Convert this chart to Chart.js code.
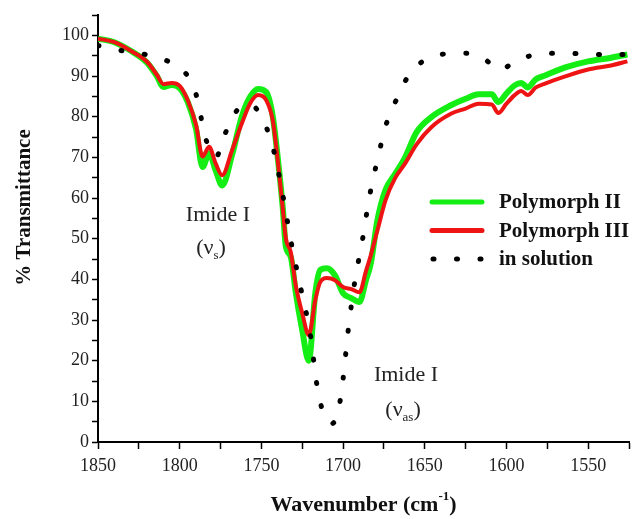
<!DOCTYPE html>
<html>
<head>
<meta charset="utf-8">
<title>IR spectra - Imide I region</title>
<script src="https://cdn.jsdelivr.net/npm/chart.js@4.4.1/dist/chart.umd.min.js"></script>
<style>
    html, body { margin: 0; padding: 0; background: #fff; }
    canvas { display: block; }
</style>
</head>
<body>
<canvas id="irChart" width="638" height="519"></canvas>
<script>
// wavenumbers (cm-1) shared by both solid-state traces
const polyWavenumbers = [1850, 1840, 1830, 1820, 1814, 1810, 1805, 1800, 1795, 1790, 1786, 1782, 1778, 1774, 1768, 1762, 1757, 1752, 1747, 1743, 1740, 1737, 1735, 1732, 1729, 1725, 1721, 1717, 1714, 1710, 1705, 1700, 1695, 1690, 1686, 1683, 1679, 1674, 1668, 1662, 1655, 1646, 1634, 1625, 1617, 1609, 1605, 1600, 1595, 1591, 1587, 1582, 1576, 1564, 1550, 1536, 1526];
const polymorphII = [99.2, 98.3, 96.2, 93.3, 90.0, 87.3, 87.8, 87.0, 83.5, 77.0, 67.6, 71.0, 66.8, 63.1, 70.5, 80.0, 84.8, 86.8, 86.0, 80.0, 70.0, 58.0, 48.0, 45.5, 36.9, 27.5, 20.0, 36.6, 42.3, 42.7, 41.0, 36.6, 35.4, 34.4, 39.8, 44.0, 54.5, 62.0, 66.0, 70.0, 76.2, 79.9, 82.8, 84.4, 85.5, 85.5, 83.6, 85.7, 87.7, 88.3, 87.2, 89.2, 90.2, 92.1, 93.6, 94.5, 95.3];
const polymorphIII = [99.2, 98.3, 96.2, 93.5, 90.3, 88.0, 88.3, 87.6, 84.0, 78.0, 70.2, 72.6, 68.5, 65.6, 71.7, 78.3, 83.2, 85.3, 84.0, 79.0, 69.3, 57.8, 50.0, 46.7, 38.6, 31.7, 26.3, 34.9, 39.3, 40.3, 39.8, 38.1, 37.6, 36.8, 42.0, 46.0, 52.0, 59.5, 65.0, 68.5, 73.2, 77.4, 80.7, 82.0, 83.2, 83.0, 80.9, 83.2, 85.3, 86.3, 85.3, 87.2, 88.2, 89.9, 91.6, 92.6, 93.6];

const solutionWavenumbers = [1850, 1835, 1821, 1807, 1797, 1790, 1784, 1778, 1772, 1765, 1757, 1750, 1743, 1737, 1732, 1726, 1720, 1716, 1712, 1707, 1703, 1700, 1697, 1693, 1688, 1684, 1680, 1673, 1667, 1661, 1652, 1640, 1625, 1614, 1604, 1595, 1580, 1563, 1548, 1526];
const solutionValues = [97.5, 96.2, 95.3, 93.6, 91.0, 85.5, 74.5, 70.0, 76.0, 81.5, 83.0, 80.0, 72.5, 61.0, 49.6, 38.0, 26.3, 14.0, 7.0, 4.5, 7.5, 15.5, 27.0, 39.0, 50.0, 60.0, 67.6, 78.9, 84.5, 89.4, 93.4, 95.3, 95.6, 94.3, 91.5, 93.5, 95.4, 95.6, 95.3, 95.3];

const seriesLabels = ['Polymorph II', 'Polymorph III', 'in solution'];
const xTickLabels = [1850, 1800, 1750, 1700, 1650, 1600, 1550];
const yTickLabels = [0, 10, 20, 30, 40, 50, 60, 70, 80, 90, 100];

// band assignments: text and where it sits in data units
const bandNames = ['Imide I', 'Imide I'];
const bandSubscripts = ['s', 'as'];
const bandNameAt = [[1776.6, 55.8], [1661.5, 16.5]];
const bandSymbolAt = [[1780.8, 47.7], [1663.3, 7.9]];

const serif = 'Liberation Serif, Times New Roman, serif';

function toPoints(xs, ys) {
    return xs.map((x, i) => ({ x: x, y: ys[i] }));
}

const insideLegend = {
    id: 'insideLegend',
    afterDatasetsDraw(chart) {
        const { ctx, chartArea } = chart;
        const x0 = chartArea.left + 334;
        const y0 = chartArea.top + 187;
        chart.data.datasets.forEach((ds, i) => {
            const y = y0 + i * 28.5;
            ctx.save();
            ctx.strokeStyle = ds.borderColor;
            ctx.lineWidth = 5;
            ctx.lineCap = 'round';
            ctx.setLineDash(ds.borderDash || []);
            ctx.beginPath();
            if (ds.borderDash) {
                ctx.moveTo(x0 + 1, y);
                ctx.lineTo(x0 + 49, y);
            } else {
                ctx.moveTo(x0, y);
                ctx.lineTo(x0 + 50, y);
            }
            ctx.stroke();
            ctx.setLineDash([]);
            ctx.fillStyle = '#111';
            ctx.font = 'bold 21px ' + serif;
            ctx.textBaseline = 'middle';
            ctx.textAlign = 'left';
            ctx.fillText(ds.label, x0 + 67, y + 1);
            ctx.restore();
        });
    }
};

// text followed by a small raised/lowered part, then a closing bit
function drawScripted(ctx, cx, cy, parts, bigFont, smallFont, shift) {
    ctx.font = bigFont;
    const w0 = ctx.measureText(parts[0]).width;
    const w2 = ctx.measureText(parts[2]).width;
    ctx.font = smallFont;
    const w1 = ctx.measureText(parts[1]).width;
    const left = cx - (w0 + w1 + w2) / 2;
    ctx.textAlign = 'left';
    ctx.font = bigFont;
    ctx.fillText(parts[0], left, cy);
    ctx.font = smallFont;
    ctx.fillText(parts[1], left + w0, cy + shift);
    ctx.font = bigFont;
    ctx.fillText(parts[2], left + w0 + w1, cy);
}

const bandLabels = {
    id: 'bandLabels',
    afterDatasetsDraw(chart) {
        const { ctx } = chart;
        const xs = chart.scales.x, ys = chart.scales.y;
        ctx.save();
        ctx.fillStyle = '#222';
        ctx.textBaseline = 'middle';
        bandNames.forEach((name, i) => {
            ctx.font = '22px ' + serif;
            ctx.textAlign = 'center';
            ctx.fillText(name, xs.getPixelForValue(bandNameAt[i][0]), ys.getPixelForValue(bandNameAt[i][1]));
            drawScripted(ctx,
                xs.getPixelForValue(bandSymbolAt[i][0]),
                ys.getPixelForValue(bandSymbolAt[i][1]),
                ['(\u03bd', bandSubscripts[i], ')'],
                '22px ' + serif, '13px ' + serif, 8);
        });
        ctx.restore();
    }
};

// x axis title with a real superscript for cm-1
const xAxisTitle = {
    id: 'xAxisTitle',
    afterDraw(chart) {
        const { ctx, chartArea } = chart;
        ctx.save();
        ctx.fillStyle = '#111';
        ctx.textBaseline = 'middle';
        drawScripted(ctx, (chartArea.left + chartArea.right) / 2, 505,
            ['Wavenumber (cm', '-1', ')'],
            'bold 22px ' + serif, 'bold 13px ' + serif, -8);
        ctx.restore();
    }
};

new Chart(document.getElementById('irChart'), {
    type: 'line',
    data: {
        datasets: [
            {
                label: seriesLabels[0],
                data: toPoints(polyWavenumbers, polymorphII),
                borderColor: '#14ee14',
                borderWidth: 6,
                order: 3
            },
            {
                label: seriesLabels[1],
                data: toPoints(polyWavenumbers, polymorphIII),
                borderColor: '#ee1414',
                borderWidth: 4,
                order: 2
            },
            {
                label: seriesLabels[2],
                data: toPoints(solutionWavenumbers, solutionValues),
                borderColor: '#000',
                borderWidth: 5,
                borderDash: [1, 22.5],
                borderCapStyle: 'round',
                order: 1
            }
        ]
    },
    options: {
        responsive: false,
        animation: false,
        layout: { padding: { top: 15, right: 9, left: 0, bottom: 0 } },
        elements: {
            point: { radius: 0 },
            line: { cubicInterpolationMode: 'monotone', fill: false }
        },
        plugins: {
            legend: { display: false },
            tooltip: { enabled: false }
        },
        scales: {
            x: {
                type: 'linear',
                reverse: true,
                min: 1525,
                max: 1850,
                afterFit(scale) { scale.height = 77; },
                border: { display: true, color: '#000', width: 2 },
                grid: { drawOnChartArea: false, drawTicks: true, tickLength: 7, tickColor: '#000', tickWidth: 1.5 },
                ticks: {
                    stepSize: 25,
                    autoSkip: false,
                    maxRotation: 0,
                    padding: 6,
                    color: '#222',
                    font: { family: serif, size: 18 },
                    callback: v => xTickLabels.includes(v) ? String(v) : ''
                },
                title: { display: false }
            },
            y: {
                min: 0,
                max: 105,
                afterFit(scale) { scale.width = 98; },
                border: { display: true, color: '#000', width: 2 },
                grid: { drawOnChartArea: false, drawTicks: true, tickLength: 6, tickColor: '#000', tickWidth: 1.5 },
                ticks: {
                    stepSize: 5,
                    autoSkip: false,
                    padding: 3,
                    color: '#222',
                    font: { family: serif, size: 18 },
                    callback: v => yTickLabels.includes(v) ? String(v) : ''
                },
                title: {
                    display: true,
                    text: '        % Transmittance',
                    color: '#111',
                    font: { family: serif, size: 21, weight: 'bold' },
                    padding: { top: 12, bottom: 0 }
                }
            }
        }
    },
    plugins: [insideLegend, bandLabels, xAxisTitle]
});
</script>
</body>
</html>
